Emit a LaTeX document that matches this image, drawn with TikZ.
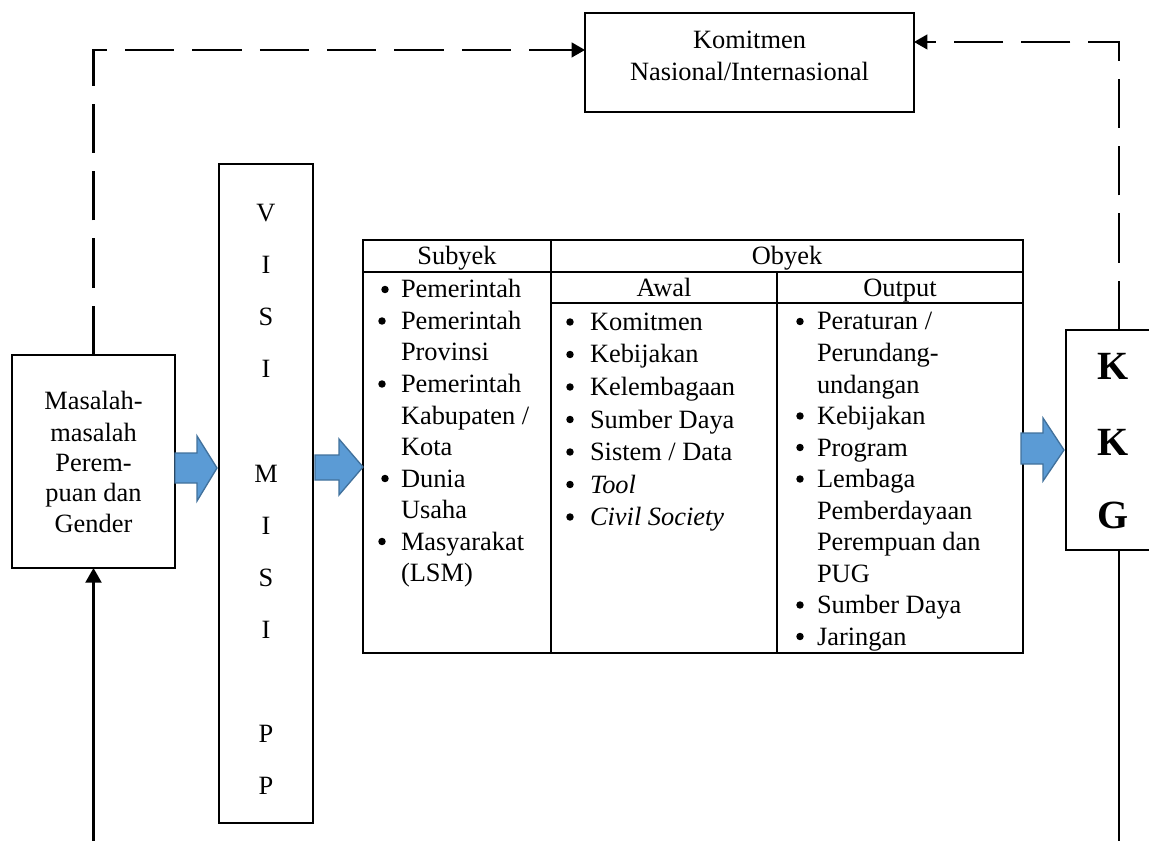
\documentclass[tikz,border=0pt]{standalone}
\usepackage{fontspec}
\setmainfont{Liberation Serif}
\usetikzlibrary{arrows.meta}
\definecolor{arrowfill}{HTML}{5B9BD5}
\definecolor{arrowline}{HTML}{41719C}
\begin{document}
\begin{tikzpicture}[x=0.75pt,y=-0.75pt,
  box/.style={draw, line width=1.4pt, inner sep=0, outer sep=0, anchor=north west},
  txt/.style={inner sep=0, outer sep=0, font=\fontsize{19.8}{23.6}\selectfont},
  big/.style={inner sep=0, outer sep=0, font=\fontsize{30}{36}\selectfont\bfseries},
  dot/.style={circle, fill=black, inner sep=0, outer sep=0, minimum size=5.6pt},
  dline/.style={line width=1.6pt, dash pattern=on 37pt off 13.5pt},
  sline/.style={line width=1.6pt},
  tip/.style={-{Triangle[length=10pt,width=11pt]}},
  rule/.style={line width=1.4pt},
  blockarrow/.style={fill=arrowfill, draw=arrowline, line width=1pt, line join=miter}]
\useasboundingbox (0,0) rectangle (1149,841);
\clip (0,0) rectangle (1149,841);

% boxes
\node[box, minimum width={329*0.75pt}, minimum height={99*0.75pt}] (kom) at (585,13) {};
\node[box, minimum width={163*0.75pt}, minimum height={213*0.75pt}] (mas) at (12,355) {};
\node[box, line width=1.1pt, minimum width={94*0.75pt}, minimum height={659*0.75pt}] (visi) at (219,164) {};
\node[box, minimum width={106*0.75pt}, minimum height={220*0.75pt}] (kkg) at (1066,330) {};
\node[box, minimum width={660*0.75pt}, minimum height={413*0.75pt}] (tbl) at (363,240) {};

% table rules
\draw[rule] (363,272) -- (1023,272);
\draw[rule] (551,303) -- (1023,303);
\draw[rule] (551,240) -- (551,653);
\draw[rule] (777,272) -- (777,653);

% Komitmen text
\node[txt, anchor=base] (kom1) at (749.5,49) {Komitmen};
\node[txt, anchor=base] (kom2) at (749.5,81) {Nasional/Internasional};

% Masalah text
\node[txt, anchor=base] (m1) at (93.5,410) {Masalah-};
\node[txt, anchor=base] (m2) at (93.5,441) {masalah};
\node[txt, anchor=base] (m3) at (93.5,471) {Perem-};
\node[txt, anchor=base] (m4) at (93.5,501) {puan dan};
\node[txt, anchor=base] (m5) at (93.5,532) {Gender};

% VISI MISI PP letters
\foreach \l/\yy [count=\i] in {V/222,I/274,S/326,I/378,M/482,I/534,S/586,I/638,P/742,P/794}
  \node[txt, anchor=base] (v\i) at (266,\yy) {\l};

% KKG letters
\node[big, anchor=base] (k1) at (1113,380) {K};
\node[big, anchor=base] (k2) at (1113,455) {K};
\node[big, anchor=base] (k3) at (1113,528) {G};

% table headers
\node[txt, anchor=base] (hs) at (457,265) {Subyek};
\node[txt, anchor=base] (ho) at (787,265) {Obyek};
\node[txt, anchor=base] (ha) at (664,297) {Awal};
\node[txt, anchor=base] (hp) at (900,297) {Output};

% Subyek column
\node[dot] (sb1) at (385,289.5) {};
\node[txt, anchor=base west] (s1) at (401,298) {Pemerintah};
\node[dot] (sb2) at (382,321) {};
\node[txt, anchor=base west] (s2) at (401,329.5) {Pemerintah};
\node[txt, anchor=base west] (s3) at (401,361) {Provinsi};
\node[dot] (sb3) at (382,384) {};
\node[txt, anchor=base west] (s4) at (401,392.5) {Pemerintah};
\node[txt, anchor=base west] (s5) at (401,424) {Kabupaten /};
\node[txt, anchor=base west] (s6) at (401,455.5) {Kota};
\node[dot] (sb4) at (385,478.5) {};
\node[txt, anchor=base west] (s7) at (401,487) {Dunia};
\node[txt, anchor=base west] (s8) at (401,518.5) {Usaha};
\node[dot] (sb5) at (382,541.5) {};
\node[txt, anchor=base west] (s9) at (401,550) {Masyarakat};
\node[txt, anchor=base west] (s10) at (401,581.5) {(LSM)};

% Awal column
\node[dot] (ab1) at (570,322) {};
\node[txt, anchor=base west] (a1) at (590,330.5) {Komitmen};
\node[dot] (ab2) at (570,354.5) {};
\node[txt, anchor=base west] (a2) at (590,363) {Kebijakan};
\node[dot] (ab3) at (570,387) {};
\node[txt, anchor=base west] (a3) at (590,395.5) {Kelembagaan};
\node[dot] (ab4) at (570,419.5) {};
\node[txt, anchor=base west] (a4) at (590,428) {Sumber Daya};
\node[dot] (ab5) at (570,452) {};
\node[txt, anchor=base west] (a5) at (590,460.5) {Sistem / Data};
\node[dot] (ab6) at (570,484.5) {};
\node[txt, anchor=base west] (a6) at (590,493) {\textit{Tool}};
\node[dot] (ab7) at (570,517) {};
\node[txt, anchor=base west] (a7) at (590,525.5) {\textit{Civil Society}};

% Output column
\node[dot] (ob1) at (800,321.5) {};
\node[txt, anchor=base west] (o1) at (817,330) {Peraturan /};
\node[txt, anchor=base west] (o2) at (817,361.5) {Perundang-};
\node[txt, anchor=base west] (o3) at (817,393) {undangan};
\node[dot] (ob2) at (800,416) {};
\node[txt, anchor=base west] (o4) at (817,424.5) {Kebijakan};
\node[dot] (ob3) at (800,447.5) {};
\node[txt, anchor=base west] (o5) at (817,456) {Program};
\node[dot] (ob4) at (800,479) {};
\node[txt, anchor=base west] (o6) at (817,487.5) {Lembaga};
\node[txt, anchor=base west] (o7) at (817,519) {Pemberdayaan};
\node[txt, anchor=base west] (o8) at (817,550.5) {Perempuan dan};
\node[txt, anchor=base west] (o9) at (817,582) {PUG};
\node[dot] (ob5) at (800,605) {};
\node[txt, anchor=base west] (o10) at (817,613.5) {Sumber Daya};
\node[dot] (ob6) at (800,636.5) {};
\node[txt, anchor=base west] (o11) at (817,645) {Jaringan};

% blue block arrows
\draw[blockarrow] (175,453) -- (197,453) -- (197,436) -- (217,468) -- (197,501) -- (197,483) -- (175,483) -- cycle;
\draw[blockarrow] (315,455) -- (339,455) -- (339,439) -- (363,467) -- (339,495) -- (339,480) -- (315,480) -- cycle;
\draw[blockarrow] (1021,433) -- (1043,433) -- (1043,418) -- (1064,450) -- (1043,481) -- (1043,464) -- (1021,464) -- cycle;

% connectors
\draw[dline, tip] (mas.north) |- ([yshift=9.4pt]kom.west);
\draw[dline, tip] (kkg.north) |- ([yshift=15.4pt]kom.east);
\coordinate (b1) at (93.5,845);
\coordinate (b2) at (1119,845);
\draw[sline, -{Triangle[length=11pt,width=12pt]}] (b1) -- (mas.south);
\draw[sline] (kkg.south) -- (b2);
\end{tikzpicture}
\end{document}
